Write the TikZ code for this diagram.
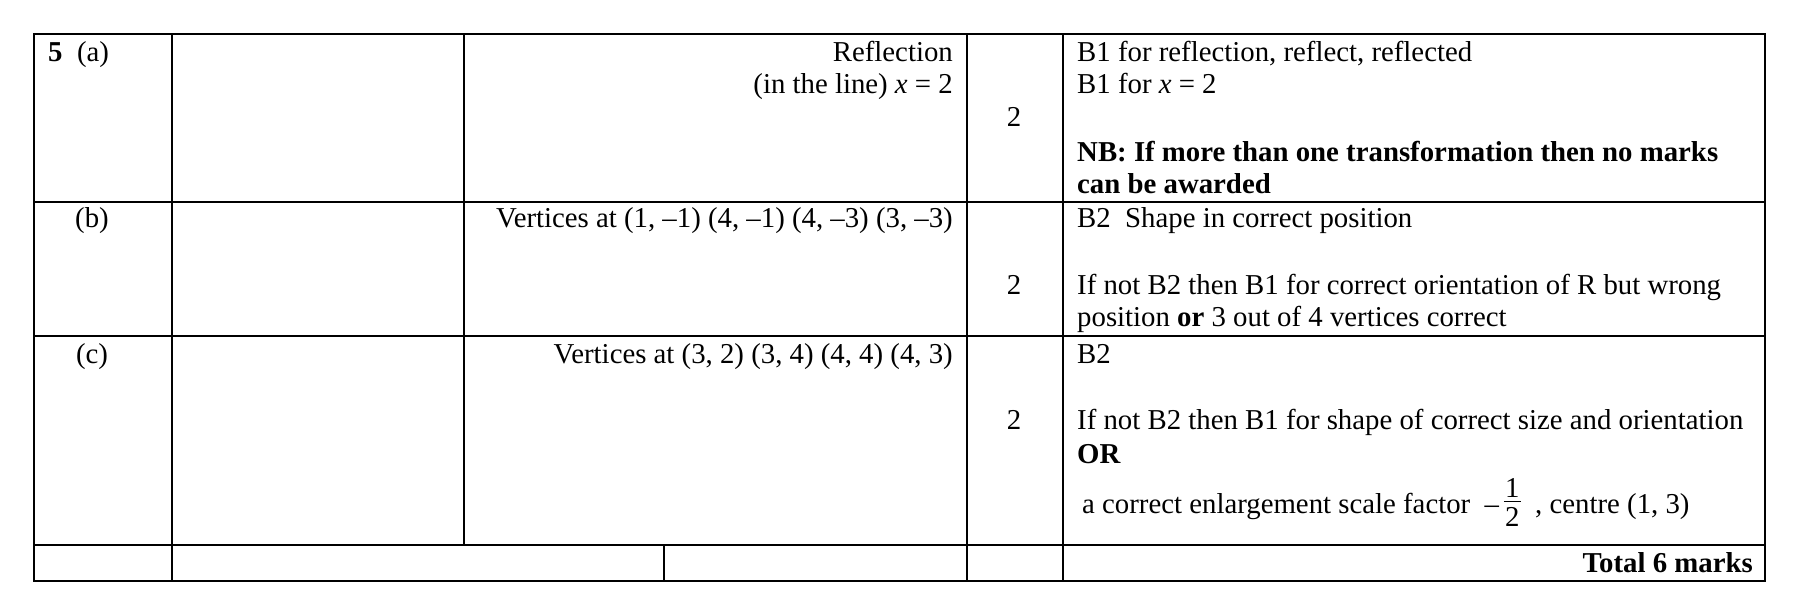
\documentclass[tikz,border=0pt]{standalone}
\usepackage{fontspec}
\setmainfont{Liberation Serif}
\begin{document}
\begin{tikzpicture}[x=1pt,y=-1pt,
  t/.style={inner sep=0pt,font=\fontsize{28.8}{34}\selectfont},
  r/.style={t,anchor=base east},
  l/.style={t,anchor=base west},
  c/.style={t,anchor=base}]
\useasboundingbox (0,0) rectangle (1800,614);
\draw[line width=1.3pt] (34,34) rectangle (1765,581);
\foreach \y in {202,336,545} \draw[line width=1.1pt] (34,\y) -- (1765,\y);
\foreach \x in {172,967,1063} \draw[line width=1.1pt] (\x,34) -- (\x,581);
\draw[line width=1.1pt] (464,34) -- (464,545);
\draw[line width=1.1pt] (664,545) -- (664,581);
\node[l] (qa) at (48,61) {\textbf{5}\ \ (a)};
\node[c] (qb) at (92,227) {(b)};
\node[c] (qc) at (92,363) {(c)};
\node[r] (a1) at (953,61) {Reflection};
\node[r] (a2) at (953,93) {(in the line) \textit{x} = 2};
\node[r] (b1) at (953,227) {Vertices at (1, –1) (4, –1) (4, –3) (3, –3)};
\node[r] (c1) at (953,363) {Vertices at (3, 2) (3, 4) (4, 4) (4, 3)};
\node[c] (ma) at (1014,126) {2};
\node[c] (mb) at (1014,294) {2};
\node[c] (mc) at (1014,429) {2};
\node[l] (n1) at (1077,61) {B1 for reflection, reflect, reflected};
\node[l] (n2) at (1077,93) {B1 for \textit{x} = 2};
\node[l] (n3) at (1077,161) {\textbf{NB: If more than one transformation then no marks}};
\node[l] (n4) at (1077,193) {\textbf{can be awarded}};
\node[l] (n5) at (1077,227) {B2\ \ Shape in correct position};
\node[l] (n6) at (1077,294) {If not B2 then B1 for correct orientation of R but wrong};
\node[l] (n7) at (1077,326) {position \textbf{or} 3 out of 4 vertices correct};
\node[l] (n8) at (1077,363) {B2};
\node[l] (n9) at (1077,429) {If not B2 then B1 for shape of correct size and orientation};
\node[l] (n10) at (1077,463) {\textbf{OR}};
\node[l] (n11) at (1082,513) {a correct enlargement scale factor \ –\,\raisebox{-1.05ex}{\shortstack{1\\[1pt]\rule{17pt}{0.8pt}\\[3pt]2}}\ \ , centre (1, 3)};
\node[r] (tot) at (1753,572) {\textbf{Total 6 marks}};
\end{tikzpicture}
\end{document}
